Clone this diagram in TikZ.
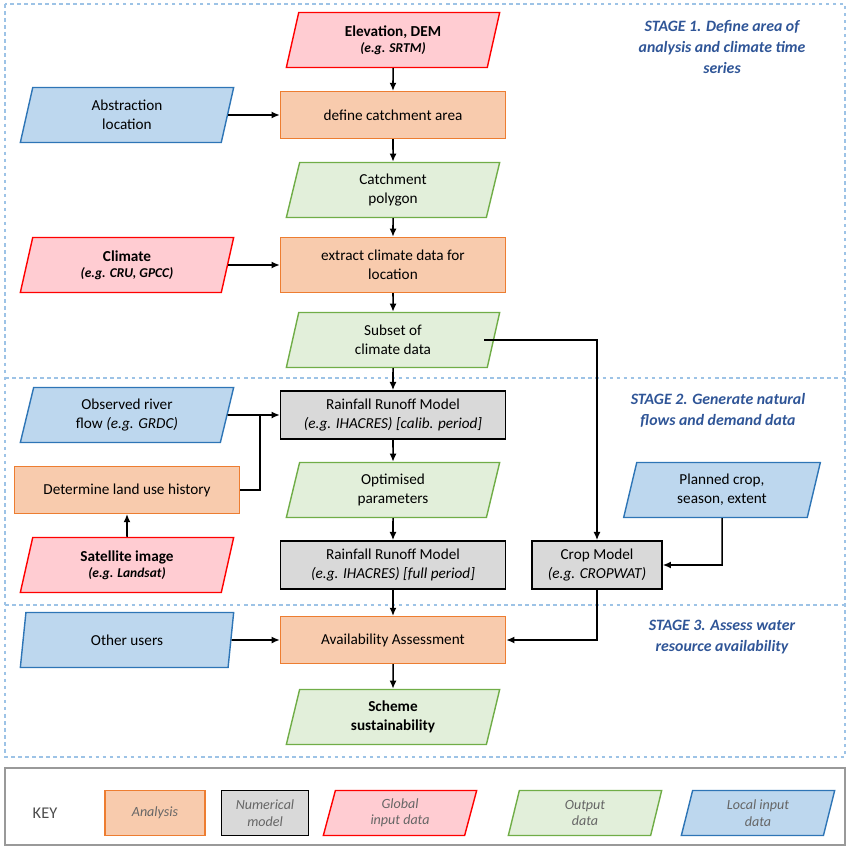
\documentclass[tikz,border=0pt]{standalone}
\usepackage{fontspec}
\setmainfont{Carlito}
\usetikzlibrary{positioning, shapes.geometric, arrows.meta}
\definecolor{orfill}{HTML}{F8CBAD}
\definecolor{ordraw}{HTML}{ED7D31}
\definecolor{rdfill}{HTML}{FFCCD2}
\definecolor{rddraw}{HTML}{FF0000}
\definecolor{grfill}{HTML}{E2EFDA}
\definecolor{grdraw}{HTML}{70AD47}
\definecolor{blfill}{HTML}{BDD7EE}
\definecolor{bldraw}{HTML}{2E75B6}
\definecolor{stagecol}{HTML}{2F5597}
\definecolor{stageline}{HTML}{9DC3E6}
\newcommand{\egtxt}[1]{{\fontsize{11.5}{14}\selectfont\bfseries\itshape #1}}
\tikzset{
  base/.style={align=center, font=\fontsize{13}{16}\selectfont, line width=1.2pt, inner sep=2pt},
  para/.style={base, trapezium, trapezium left angle=70, trapezium right angle=110,
    trapezium stretches body, minimum width=6.4cm, minimum height=1.65cm},
  analysis/.style={base, rectangle, fill=orfill, draw=ordraw, minimum width=6.75cm, minimum height=1.4cm},
  model/.style={base, rectangle, fill=black!15, draw=black, minimum width=6.75cm, minimum height=1.45cm},
  global/.style={para, fill=rdfill, draw=rddraw},
  output/.style={para, fill=grfill, draw=grdraw},
  local/.style={para, fill=blfill, draw=bldraw},
  stagelbl/.style={font=\fontsize{13.5}{18}\selectfont\bfseries\itshape, text=stagecol, align=center},
  frame/.style={draw=stageline, dashed, line width=1.2pt},
  arr/.style={-{Latex[length=7pt,width=6pt]}, line width=1.3pt},
  keytxt/.style={font=\fontsize{12}{14}\selectfont\itshape, text=black!60}
}
\begin{document}
\begin{tikzpicture}[x=0.03cm, y=-0.03cm]
\useasboundingbox (0,0) rectangle (850,848);
% stage frames
\draw[frame] (5,4) rectangle (845,757);
\draw[frame] (5,378) -- (845,378);
\draw[frame] (5,605) -- (845,605);
\node[stagelbl] (st1) at (722,47) {STAGE 1. Define area of\\analysis and climate time\\series};
\node[stagelbl] (st2) at (718,410) {STAGE 2. Generate natural\\flows and demand data};
\node[stagelbl] (st3) at (722,637) {STAGE 3. Assess water\\resource availability};

% stage 1
\node[global] (dem) at (393,40) {\textbf{Elevation, DEM}\\[-2pt]\egtxt{(e.g. SRTM)}};
\node[local] (absloc) at (127,115) {Abstraction\\location};
\node[analysis] (catch) at (393,115) {define catchment area};
\node[output] (poly) at (393,190) {Catchment\\polygon};
\node[global] (clim) at (127,265) {\textbf{Climate}\\[-2pt]\egtxt{(e.g. CRU, GPCC)}};
\node[analysis, minimum height=1.65cm] (extract) at (393,265) {extract climate data for\\location};
\node[output] (subset) at (393,340) {Subset of\\climate data};

% stage 2
\node[local] (obs) at (127,415) {Observed river\\flow \textit{(e.g. GRDC)}};
\node[model] (rrcal) at (393,415) {Rainfall Runoff Model\\\textit{(e.g. IHACRES) [calib. period]}};
\node[analysis] (landuse) at (127,490) {Determine land use history};
\node[output] (optim) at (393,490) {Optimised\\parameters};
\node[global] (sat) at (127,565) {\textbf{Satellite image}\\[-2pt]\egtxt{(e.g. Landsat)}};
\node[model] (rrfull) at (393,565) {Rainfall Runoff Model\\\textit{(e.g. IHACRES) [full period]}};
\node[model, minimum width=3.9cm] (crop) at (597,565) {Crop Model\\\textit{(e.g. CROPWAT)}};
\node[local, minimum width=5.9cm] (planned) at (722,490) {Planned crop,\\season, extent};

% stage 3
\node[local] (other) at (127,640) {Other users};
\node[analysis] (avail) at (393,640) {Availability Assessment};
\node[output] (scheme) at (393,717) {\textbf{Scheme}\\\textbf{sustainability}};

% arrows
\draw[arr] (dem) -- (catch);
\draw[arr] (absloc) -- (catch);
\draw[arr] (catch) -- (poly);
\draw[arr] (poly) -- (extract);
\draw[arr] (clim) -- (extract);
\draw[arr] (extract) -- (subset);
\draw[arr] (subset) -- (rrcal);
\draw[arr] (subset.east) ++(-10,0) -- (597,340) -- (crop.north);
\draw[arr] (obs) -- (rrcal);
\draw[line width=1.3pt] (landuse.east) -- (260,490) -- (260,415);
\draw[arr] (sat) -- (landuse);
\draw[arr] (rrcal) -- (optim);
\draw[arr] (optim) -- (rrfull);
\draw[arr] (rrfull) -- (avail);
\draw[arr] (planned.south) -- (722,565) -- (crop.east);
\draw[arr] (crop.south) -- (597,640) -- (avail.east);
\draw[arr] (other) -- (avail);
\draw[arr] (avail) -- (scheme);

% key
\draw[black!40, line width=1.2pt] (5,768) rectangle (845,845);
\node[font=\fontsize{14}{16}\selectfont, text=black!70] (keylbl) at (45,813) {KEY};
\node[analysis, minimum width=3cm, minimum height=1.35cm, keytxt] (k1) at (155,813) {Analysis};
\node[model, minimum width=2.6cm, minimum height=1.35cm, keytxt] (k2) at (265,813) {Numerical\\model};
\node[global, minimum width=4.6cm, minimum height=1.35cm, keytxt] (k3) at (400,813) {Global\\input data};
\node[output, minimum width=4.6cm, minimum height=1.35cm, keytxt] (k4) at (585,813) {Output\\data};
\node[local, minimum width=4.6cm, minimum height=1.35cm, keytxt] (k5) at (758,813) {Local input\\data};
\end{tikzpicture}
\end{document}
